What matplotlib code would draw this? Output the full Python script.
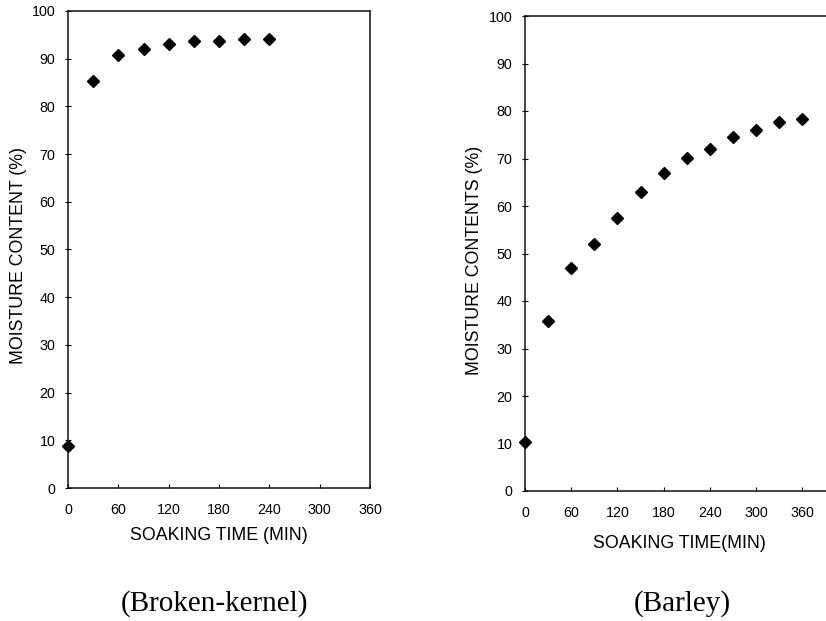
import matplotlib
matplotlib.use("Agg")
import matplotlib.pyplot as plt

plt.rcParams['font.family'] = ['Liberation Sans', 'DejaVu Sans']

# Soaking time (min) and moisture content (%)
broken_time = [0, 30, 60, 90, 120, 150, 180, 210, 240]
broken_moisture = [8.9, 85.3, 90.7, 92.0, 93.1, 93.8, 93.8, 94.1, 94.1]

barley_time = [0, 30, 60, 90, 120, 150, 180, 210, 240, 270, 300, 330, 360]
barley_moisture = [10.4, 35.8, 46.9, 52.0, 57.4, 62.9, 67.0, 70.1, 71.9, 74.5, 76.1, 77.6, 78.4]

x_ticks = [0, 60, 120, 180, 240, 300, 360]
y_ticks = [0, 10, 20, 30, 40, 50, 60, 70, 80, 90, 100]

W, H = 826, 621
fig = plt.figure(figsize=(W / 100, H / 100), dpi=100)


def px_axes(x0, y0, x1, y1):
    return fig.add_axes([x0 / W, 1 - y1 / H, (x1 - x0) / W, (y1 - y0) / H])


def style(ax, xlim):
    ax.set_xlim(*xlim)
    ax.set_ylim(0, 100)
    ax.set_xticks(x_ticks)
    ax.set_yticks(y_ticks)
    for s in ax.spines.values():
        s.set_linewidth(1.1)
        s.set_color('#111111')
    ax.tick_params(axis='x', direction='in', length=3, width=0.8,
                   labelsize=10.3, pad=11)
    ax.tick_params(axis='y', direction='inout', length=4, width=0.8,
                   labelsize=10.3, pad=7)


# Broken-kernel panel
ax1 = px_axes(68, 11, 370, 488)
ax1.plot(broken_time, broken_moisture, linestyle='none', marker='D',
         markersize=6.2, color='black', clip_on=False)
style(ax1, (0, 360))
ax1.set_xlabel('SOAKING TIME (MIN)', fontsize=12.8)
ax1.xaxis.set_label_coords(0.5, -0.082)
ax1.set_ylabel('MOISTURE CONTENT (%)', fontsize=12.8)
ax1.yaxis.set_label_coords(-0.136, 0.488)

# Barley panel (axis runs past the right edge of the figure)
ax2 = px_axes(525, 16, 833, 491)
ax2.plot(barley_time, barley_moisture, linestyle='none', marker='D',
         markersize=6.2, color='black', clip_on=False)
style(ax2, (0, 400))
ax2.spines['right'].set_visible(False)
ax2.set_xlabel('SOAKING TIME(MIN)', fontsize=12.8)
ax2.xaxis.set_label_coords(0.502, -0.092)
ax2.set_ylabel('MOISTURE CONTENTS (%)', fontsize=12.8)
ax2.yaxis.set_label_coords(-0.136, 0.486)

# Panel captions
serif = ['Liberation Serif', 'DejaVu Serif']
fig.text(215 / W, 1 - 604 / H, '(Broken-kernel)', ha='center', va='center',
         fontsize=21, family=serif)
fig.text(682 / W, 1 - 604 / H, '(Barley)', ha='center', va='center',
         fontsize=21, family=serif)

fig.savefig('out.png', dpi=100, facecolor='white')
